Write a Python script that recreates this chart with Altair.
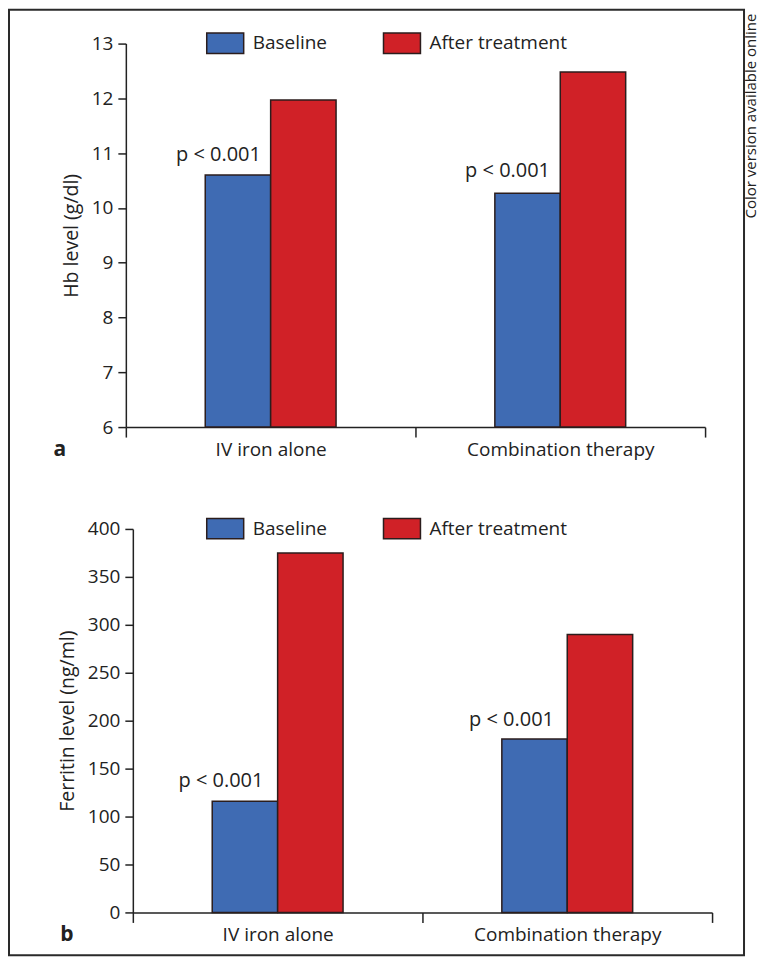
import altair as alt
import pandas as pd

categories = ["IV iron alone", "Combination therapy"]
series = ["Baseline", "After treatment"]
hb_baseline = [10.6, 10.27]
hb_after = [11.97, 12.48]
ferritin_baseline = [116, 181]
ferritin_after = [375, 290]
p_labels = ["p < 0.001", "p < 0.001"]
hb_ticks = [6, 7, 8, 9, 10, 11, 12, 13]
ferritin_ticks = [0, 50, 100, 150, 200, 250, 300, 350, 400]
colors = ["#3F6BB3", "#D02127"]
FONT = "Open Sans"
INK = "#222222"
EDGE = "#2b1d1d"
FS = 19


def make_df(base_vals, after_vals):
    rows = []
    for i, c in enumerate(categories):
        rows.append({"category": c, "series": series[0], "value": base_vals[i], "label": p_labels[i]})
        rows.append({"category": c, "series": series[1], "value": after_vals[i], "label": ""})
    return pd.DataFrame(rows)


def panel(df, ytitle, domain, ticks, letter, text_offsets, extras=None):
    xenc = alt.X("category:N", sort=categories,
                 scale=alt.Scale(paddingInner=0, paddingOuter=0),
                 axis=alt.Axis(title=None, labelAngle=0, tickBand="extent", tickSize=10,
                               labelPadding=3, labelFontSize=FS, labelFont=FONT, labelLimit=0))
    xoff = alt.XOffset("series:N", sort=series,
                       scale=alt.Scale(range=[79.5, 210.5], paddingInner=0, paddingOuter=0))
    yenc = alt.Y("value:Q", scale=alt.Scale(domain=domain, nice=False, zero=False),
                 axis=alt.Axis(values=ticks, format="d", title=ytitle, grid=False, tickSize=8,
                               labelPadding=5, labelFontSize=FS, labelFont=FONT,
                               titleFontSize=19.5, titleFont=FONT, titleFontWeight="normal",
                               titlePadding=10))
    legend = alt.Legend(title=None, orient="none", legendX=80, legendY=-20,
                        direction="horizontal",
                        symbolType="M-1,-0.55L1,-0.55L1,0.55L-1,0.55Z",
                        symbolSize=1369, symbolStrokeColor=EDGE, symbolStrokeWidth=1.5,
                        symbolOpacity=1, labelFontSize=FS, labelFont=FONT,
                        labelColor=INK, labelOffset=8, columnPadding=53, padding=0)
    bars = alt.Chart(df).mark_bar(stroke=EDGE, strokeWidth=1.5, opacity=1).encode(
        x=xenc, xOffset=xoff, y=yenc, y2=alt.datum(domain[0]),
        color=alt.Color("series:N", sort=series,
                        scale=alt.Scale(domain=series, range=colors), legend=legend),
    )
    layers = [bars]
    for cat, (dx, dy) in zip(categories, text_offsets):
        t = alt.Chart(df).transform_filter(
            (alt.datum.category == cat) & (alt.datum.series == series[0])
        ).mark_text(font=FONT, fontSize=20, color=INK, dx=dx, dy=dy,
                    baseline="alphabetic", align="center").encode(
            x=alt.X("category:N", sort=categories), xOffset=alt.XOffset("series:N", sort=series),
            y="value:Q", text="label:N")
        layers.append(t)
    one = pd.DataFrame({"k": [letter]})
    lt = alt.Chart(one).mark_text(font=FONT, fontSize=21, fontWeight="bold", color=INK,
                                  align="center", baseline="alphabetic").encode(
        x=alt.value(-66), y=alt.value(413), text="k:N")
    layers.append(lt)
    if extras:
        layers.extend(extras)
    return alt.layer(*layers).properties(width=580, height=384)


df_hb = make_df(hb_baseline, hb_after)
df_fe = make_df(ferritin_baseline, ferritin_after)

frame_df = pd.DataFrame({"note": ["Color version available online"]})
frame = alt.Chart(frame_df).mark_rect(filled=False, stroke="#2a2a2a", strokeWidth=2).encode(
    x=alt.value(-117), x2=alt.value(619), y=alt.value(-34), y2=alt.value(913))
side = alt.Chart(frame_df).mark_text(font=FONT, fontSize=15, color=INK, angle=270,
                                     align="right", baseline="middle").encode(
    x=alt.value(626), y=alt.value(-30), text="note:N")

pa = panel(df_hb, "Hb level (g/dl)", [6, 13], hb_ticks, "a",
           [(-19.5, -14), (-20, -16)], extras=[frame, side])
pb = panel(df_fe, "Ferritin level (ng/ml)", [0, 400], ferritin_ticks, "b",
           [(-24, -14), (-23, -13)])

spacer = alt.Chart(pd.DataFrame({"s": [0]})).mark_point(opacity=0).encode(
    x=alt.value(0), y=alt.value(0)).properties(width=1, height=1)

pb_row = alt.hconcat(spacer, pb, spacing=6, bounds="flush")

chart = alt.vconcat(pa, pb_row, spacing=102, bounds="flush").resolve_scale(
    color="independent").properties(padding=0).configure_view(stroke=None).configure_axis(
    domainColor=INK, domainWidth=1.5, tickColor=INK, tickWidth=1.5,
    labelColor=INK, titleColor=INK)

chart.save("out.html", embed_options={"renderer": "svg", "actions": False})
